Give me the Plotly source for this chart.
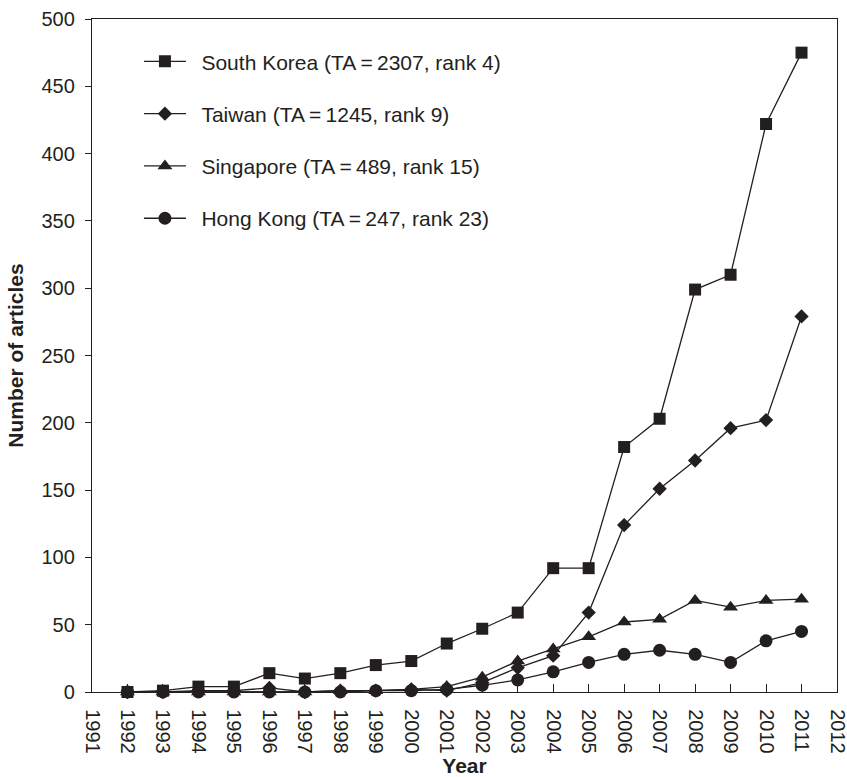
import plotly.graph_objects as go

years = list(range(1992, 2012))
south_korea = [0, 1, 4, 4, 14, 10, 14, 20, 23, 36, 47, 59, 92, 92, 182, 203, 299, 310, 422, 475]
taiwan = [0, 0, 1, 1, 3, 0, 1, 1, 2, 1, 7, 18, 27, 59, 124, 151, 172, 196, 202, 279]
singapore = [0, 0, 0, 0, 0, 0, 1, 1, 2, 4, 11, 23, 32, 41, 52, 54, 68, 63, 68, 69]
hong_kong = [0, 0, 0, 0, 0, 0, 0, 1, 1, 2, 5, 9, 15, 22, 28, 31, 28, 22, 38, 45]

names = [
    "South Korea (TA\u2009=\u20092307, rank 4)",
    "Taiwan (TA\u2009=\u20091245, rank 9)",
    "Singapore (TA\u2009=\u2009489, rank 15)",
    "Hong Kong (TA\u2009=\u2009247, rank 23)",
]
series = [south_korea, taiwan, singapore, hong_kong]
symbols = ["square", "diamond", "triangle-up", "circle"]
sizes = [12, 11, 13, 13]

ink = "#231f20"
fig = go.Figure()
for i, (nm, vals, sym, sz) in enumerate(zip(names, series, symbols, sizes)):
    fig.add_trace(go.Scatter(
        x=years, y=vals, name="\u2002" + nm, mode="lines+markers",
        line=dict(color=ink, width=1.3),
        marker=dict(symbol=sym, size=sz, color=ink),
        cliponaxis=False, legendgroup=f"g{i}",
    ))

font_family = "Liberation Sans, Arial, sans-serif"
fig.update_layout(
    width=847, height=777,
    margin=dict(l=92, r=10, t=19, b=85, autoexpand=False),
    plot_bgcolor="white", paper_bgcolor="white",
    font=dict(family=font_family, size=20, color=ink),
    showlegend=True,
    legend=dict(x=0.063, y=0.967, xanchor="left", yanchor="top",
                bgcolor="rgba(0,0,0,0)", font=dict(size=21, color=ink),
                itemwidth=42,
                tracegroupgap=22, traceorder="grouped"),
    xaxis=dict(range=[1991, 2012], tickmode="linear", tick0=1991, dtick=1,
               tickangle=90, ticks="inside", ticklen=8, tickcolor=ink,
               ticklabelstandoff=12, ticklabeloverflow="allow", automargin=False,
               showline=True, linecolor=ink, linewidth=1.3, mirror=True,
               showgrid=False, zeroline=False,
               tickfont=dict(size=20, color=ink),
               title=dict(text="<b>Year</b>", font=dict(size=21, color=ink), standoff=2)),
    yaxis=dict(range=[0, 500], tickmode="linear", tick0=0, dtick=50,
               ticks="outside", ticklen=6, tickcolor=ink,
               ticklabelstandoff=6, automargin=False,
               showline=True, linecolor=ink, linewidth=1.3, mirror=True,
               showgrid=False, zeroline=False,
               tickfont=dict(size=20, color=ink),
               title=dict(text="<b>Number of articles</b>", font=dict(size=21, color=ink), standoff=12)),
)

fig.write_html("out.html", config={"displayModeBar": False},
               post_script="document.body.style.margin='0';")
